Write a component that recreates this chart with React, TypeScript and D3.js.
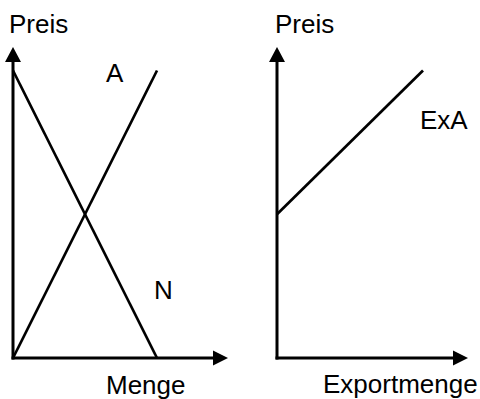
import React from "react";
import * as d3 from "d3";

// Data (abstract units)
const nachfrage: [number, number][] = [[0, 10], [10, 0]]; // N
const angebot: [number, number][] = [[0, 0], [10, 10]]; // A
const exportAngebot: [number, number][] = [[0, 5], [10, 10]]; // ExA

const leftLabels = { y: "Preis", x: "Menge", a: "A", n: "N" };
const rightLabels = { y: "Preis", x: "Exportmenge", exa: "ExA" };

const W = 480, H = 399;
const FONT = "'Liberation Sans', Arial, sans-serif";
const FS = 26;

export default function App() {
  const y = d3.scaleLinear().domain([0, 10]).range([358, 70.5]);
  const xL = d3.scaleLinear().domain([0, 10]).range([13, 157]);
  const xR = d3.scaleLinear().domain([0, 10]).range([277, 423]);
  const line = (xs: d3.ScaleLinear<number, number>) =>
    d3.line<[number, number]>().x(d => xs(d[0])).y(d => y(d[1]));

  const axes = (x0: number, xEnd: number) => {
    const y0 = y(0);
    const yTop = 47;
    return (
      <g>
        <line x1={x0} y1={y0 + 1.5} x2={x0} y2={yTop + 8} stroke="#000" strokeWidth={3} />
        <polygon points={`${x0},${yTop} ${x0 - 8},${yTop + 15} ${x0 + 8},${yTop + 15}`} fill="#000" />
        <line x1={x0 - 1.5} y1={y0} x2={xEnd - 8} y2={y0} stroke="#000" strokeWidth={3} />
        <polygon points={`${xEnd},${y0} ${xEnd - 15},${y0 - 7.5} ${xEnd - 15},${y0 + 7.5}`} fill="#000" />
      </g>
    );
  };

  return (
    <svg width={W} height={H} style={{ position: "absolute", left: 0, top: 0, background: "#fff" }}
      fontFamily={FONT} fontSize={FS}>
      <rect width={W} height={H} fill="#fff" />
      {/* Left panel */}
      {axes(xL(0), 228)}
      <path d={line(xL)(nachfrage)!} stroke="#000" strokeWidth={2.7} fill="none" />
      <path d={line(xL)(angebot)!} stroke="#000" strokeWidth={2.7} fill="none" />
      <text x={9} y={33}>{leftLabels.y}</text>
      <text x={106} y={394}>{leftLabels.x}</text>
      <text x={106} y={82}>{leftLabels.a}</text>
      <text x={154} y={299}>{leftLabels.n}</text>
      {/* Right panel */}
      {axes(xR(0), 468)}
      <path d={line(xR)(exportAngebot)!} stroke="#000" strokeWidth={2.7} fill="none" />
      <text x={275} y={33}>{rightLabels.y}</text>
      <text x={323} y={393}>{rightLabels.x}</text>
      <text x={420} y={129}>{rightLabels.exa}</text>
    </svg>
  );
}
